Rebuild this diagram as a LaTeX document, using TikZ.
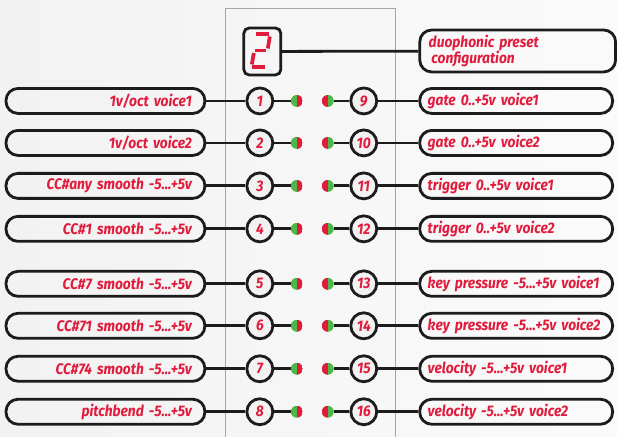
\documentclass[tikz,border=0pt]{standalone}
\usepackage{fontspec}
\setmainfont{Fira Sans}[FakeStretch=0.9]
\definecolor{sigred}{HTML}{E11B3C}
\definecolor{ledgreen}{HTML}{4DB848}
\definecolor{bggray}{HTML}{F2F2F2}
\definecolor{ink}{HTML}{1C1C1C}
\tikzset{
  wire/.style={draw=ink, line width=2.1pt},
  txt/.style={text=sigred, font=\fontsize{11.5}{12}\selectfont\bfseries\itshape},
  inbox/.style={wire, txt, rounded corners=9pt, minimum height=18.75pt,
    inner xsep=9.75pt, text width=129.75pt, align=right},
  outbox/.style={wire, txt, rounded corners=9pt, minimum height=18.75pt,
    inner xsep=6pt, text width=132.75pt, align=left},
  presetbox/.style={wire, txt, rounded corners=9pt, minimum height=31.5pt,
    inner xsep=6.75pt, text width=133.5pt, align=left},
  jack/.style={wire, txt, circle, minimum size=19.5pt, inner sep=0pt, fill=bggray},
  led/.style={circle, minimum size=9pt, inner sep=0pt},
  ledgr/.style={led, path picture={
    \fill[ledgreen] (path picture bounding box.south west) rectangle (path picture bounding box.north);
    \fill[sigred] (path picture bounding box.south) rectangle (path picture bounding box.north east);}},
  ledrg/.style={led, path picture={
    \fill[sigred] (path picture bounding box.south west) rectangle (path picture bounding box.north);
    \fill[ledgreen] (path picture bounding box.south) rectangle (path picture bounding box.north east);}},
  seg/.style={draw=sigred, line width=2.8pt},
  panel/.style={draw=black!35, line width=0.75pt}
}
\begin{document}
\begin{tikzpicture}[x=0.75pt, y=-0.75pt]

% background
\shade[left color=bggray, right color=bggray!35] (0,0) rectangle (617,437);

% panel
\draw[panel] (226,437) -- (226,9) -- (396,9) -- (396,437);

% display
\node[wire, rounded corners=4pt, minimum width=27.75pt, minimum height=35.25pt] (disp) at (262.5,51.5) {};
\draw[seg] (256,34) -- (269.5,34);
\draw[seg] (270,36.5) -- (268,48.5);
\draw[seg] (255,50.5) -- (266.5,50.5);
\draw[seg] (254,53) -- (252,64.5);
\draw[seg] (252.5,67) -- (265.5,67);

% preset
\node[presetbox] (preset) at (518,51) {duophonic preset\\ \hspace*{2pt}configuration};
\draw[wire] (disp) -- (preset);

% rows
\foreach \n/\y/\inlbl/\outlbl in {
    1/101/{1v/oct voice1}/{gate 0..+5v voice1},
    2/143/{1v/oct voice2}/{gate 0..+5v voice2},
    3/186/{CC\#any smooth -5...+5v}/{trigger 0..+5v voice1},
    4/229/{CC\#1 smooth -5...+5v}/{trigger 0..+5v voice2},
    5/284/{CC\#7 smooth -5...+5v}/{key pressure -5...+5v voice1},
    6/326/{CC\#71 smooth -5...+5v}/{key pressure -5...+5v voice2},
    7/369/{CC\#74 smooth -5...+5v}/{velocity -5...+5v voice1},
    8/412/{pitchbend -5...+5v}/{velocity -5...+5v voice2}} {
    \pgfmathtruncatemacro\m{\n+8}
    \node[inbox] (in\n) at (105.5,\y) {\inlbl};
    \node[jack] (j\n) at (260,\y) {\n};
    \node[ledgr] (la\n) at (297,\y) {};
    \node[ledrg] (lb\n) at (328,\y) {};
    \node[jack] (j\m) at (364,\y) {\m};
    \node[outbox] (out\n) at (516.5,\y) {\outlbl};
    \draw[wire] (in\n) -- (j\n) -- (la\n);
    \draw[wire] (lb\n) -- (j\m) -- (out\n);
}

\end{tikzpicture}
\end{document}
